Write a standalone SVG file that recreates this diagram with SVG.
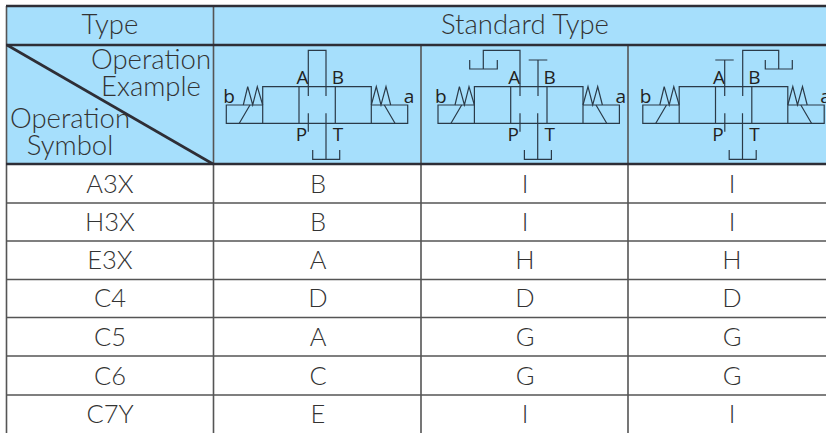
<svg xmlns="http://www.w3.org/2000/svg" width="826" height="433" viewBox="0 0 826 433">
<style>
.t{font-family:"Lato","Noto Sans",sans-serif;font-weight:300;font-size:25.500px;fill:#333;text-anchor:middle}
.h{font-size:27.500px}
.p{font-family:"Open Sans","Liberation Sans",sans-serif;font-size:19px;fill:#222;text-anchor:middle}
.grid{stroke:#555;stroke-width:1.6;fill:none}
.thick{stroke:#2e2e36;stroke-width:2.6;fill:none}
.v{stroke:#2a3a48;stroke-width:1.2;fill:none}
</style>
<defs>
<g id="valve">
<path class="v" d="M262.700 86.700H371.300V123.300H262.700ZM299 86.700V123.300M335.300 86.700V123.300M262.700 105H226.300V123.300H262.700M371.300 105H407.700V123.300H371.300"/>
<path class="v" d="M243.300 105L247.700 86.700L252.700 105L257.300 86.700L262.700 105M371.300 105L376.300 86.700L381 105L386 86.700L390.700 105M250 105L239.300 123.300M384.300 105L395 123.300"/>
<path class="v" d="M308.300 113.300V131.700M326 113.300V159.300M312.700 150V159.300H339.700V150"/>
<text class="p" x="302.500" y="83.500">A</text><text class="p" x="338" y="83.500">B</text>
<text class="p" x="301.500" y="141">P</text><text class="p" x="338" y="141">T</text>
<text class="p" x="229" y="102.500">b</text><text class="p" x="409" y="102.500">a</text>
</g>
</defs>
<rect x="7" y="6" width="819" height="158" fill="#a6dffc"/>
<g id="grid">
<path class="grid" d="M6.500 6V433M213.500 6V433M421 45V433M628 45V433"/>
<path class="grid" d="M7 203H826M7 241H826M7 279.500H826M7 317.500H826M7 356H826M7 395H826"/>
<path class="thick" d="M6 6H826M6 45H826M6 164H826"/>
<path class="thick" d="M7 45L213 164"/>
</g>
<g id="header">
<text class="t h" x="110" y="34">Type</text>
<text class="t h" x="525" y="34">Standard Type</text>
<text class="t h" x="151" y="69">Operation</text>
<text class="t h" x="151" y="96">Example</text>
<text class="t h" x="70" y="128">Operation</text>
<text class="t h" x="70" y="155">Symbol</text>
</g>
<g id="symbol-1">
<use href="#valve"/>
<path class="v" d="M308.300 96V50.300H326V96"/>
</g>
<g id="symbol-2">
<use href="#valve" x="211.700"/>
<path class="v" d="M520 96V50.300H483.300V69M469.700 60V69H497.300V60M538 96V60M528.700 60H547.300"/>
</g>
<g id="symbol-3">
<use href="#valve" x="416.500"/>
<path class="v" d="M724.700 96V60M715.300 60H733.700M742.700 96V50.300H778.700V69M765.300 60V69H792.300V60"/>
</g>
<g id="rows">
<text class="t" x="110" y="193">A3X</text><text class="t" x="318" y="193">B</text><text class="t" x="525" y="193">I</text><text class="t" x="732" y="193">I</text>
<text class="t" x="110" y="231">H3X</text><text class="t" x="318" y="231">B</text><text class="t" x="525" y="231">I</text><text class="t" x="732" y="231">I</text>
<text class="t" x="110" y="269">E3X</text><text class="t" x="318" y="269">A</text><text class="t" x="525" y="269">H</text><text class="t" x="732" y="269">H</text>
<text class="t" x="110" y="307">C4</text><text class="t" x="318" y="307">D</text><text class="t" x="525" y="307">D</text><text class="t" x="732" y="307">D</text>
<text class="t" x="110" y="346">C5</text><text class="t" x="318" y="346">A</text><text class="t" x="525" y="346">G</text><text class="t" x="732" y="346">G</text>
<text class="t" x="110" y="385">C6</text><text class="t" x="318" y="385">C</text><text class="t" x="525" y="385">G</text><text class="t" x="732" y="385">G</text>
<text class="t" x="110" y="423">C7Y</text><text class="t" x="318" y="423">E</text><text class="t" x="525" y="423">I</text><text class="t" x="732" y="423">I</text>
</g>
</svg>
